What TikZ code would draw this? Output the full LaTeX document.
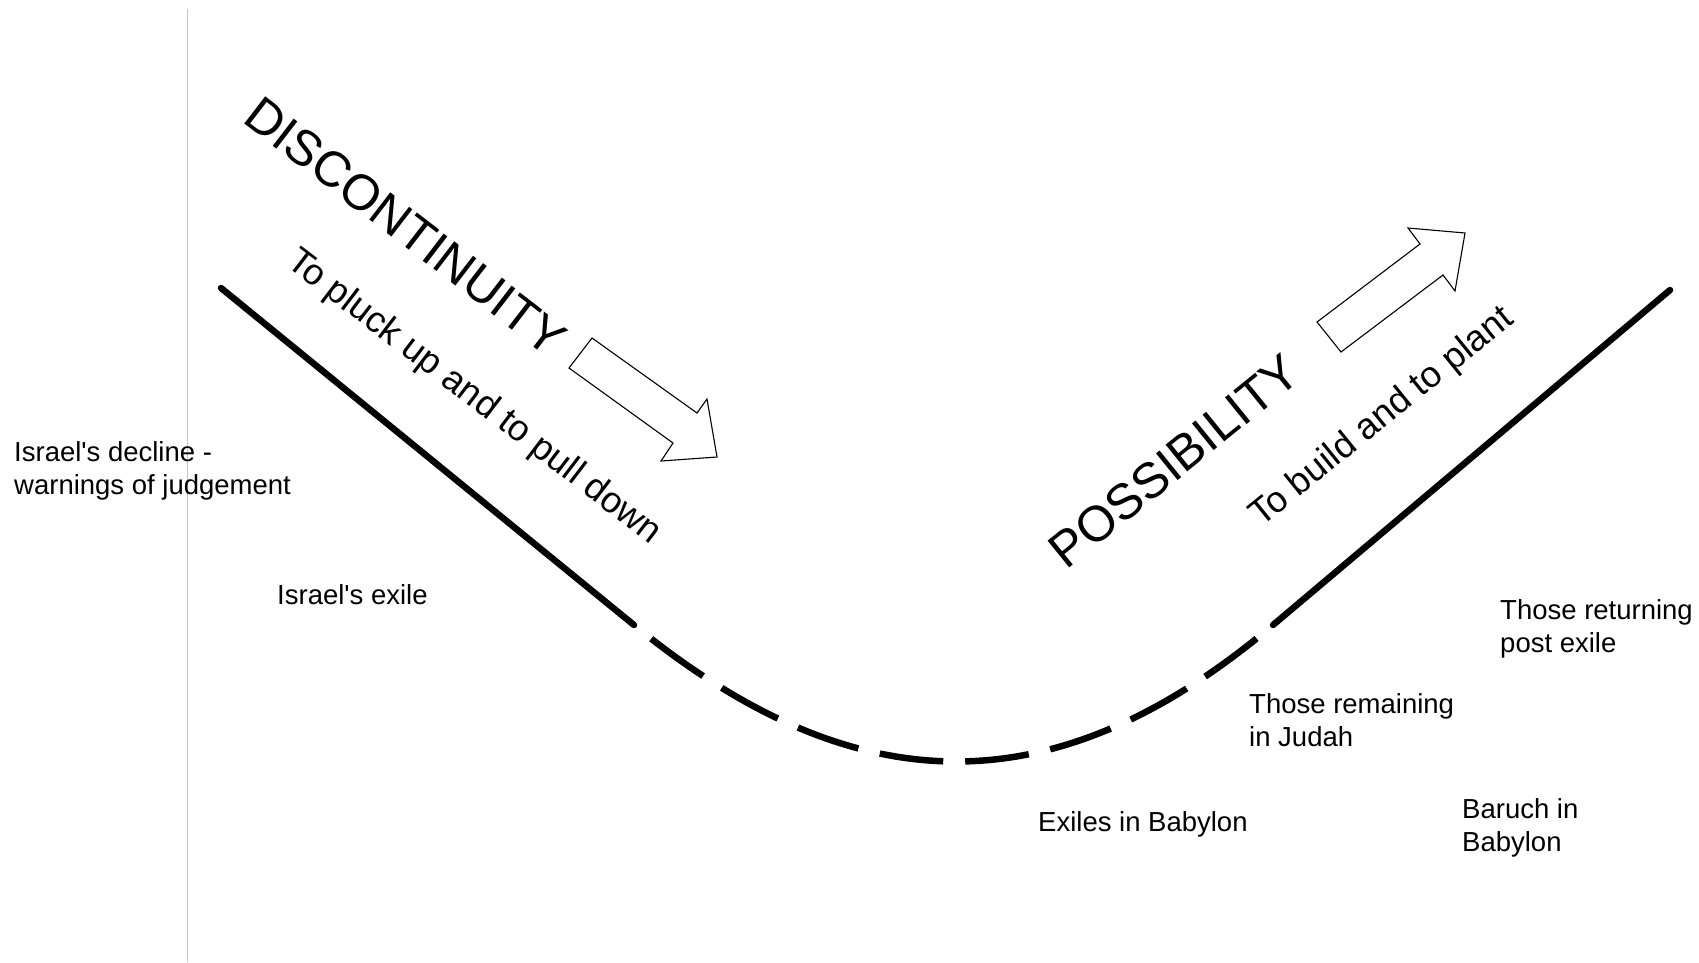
\documentclass[tikz,border=0pt]{standalone}
\usepackage{fontspec}
\setmainfont{Liberation Sans}[Ligatures=TeXOff]
\begin{document}
\begin{tikzpicture}[x=1pt,y=-1pt,
  lbl/.style={inner sep=0pt,anchor=base west,align=left,font=\fontsize{27.5}{33}\selectfont},
  big/.style={inner sep=0pt,anchor=base west,font=\fontsize{50}{58}\selectfont},
  sub/.style={inner sep=0pt,anchor=base west,font=\fontsize{36.5}{42}\selectfont},
  road/.style={line width=6.5pt,black},
  hollow/.style={draw=black,line width=1.1pt,fill=white,line join=miter}]
\useasboundingbox (0,0) rectangle (1699,962);
% grey vertical line
\coordinate (gtop) at (187,9);
\coordinate (gbot) at (187,962);
\draw[gray!45,line width=1pt] (gtop) -- (gbot);
% curve
\coordinate (A) at (221,288);
\coordinate (B) at (634,625);
\coordinate (C) at (1273,625);
\coordinate (D) at (1670,290);
\draw[road,line cap=round] (A) -- (B);
\draw[road,line cap=butt,dash pattern=on 64pt off 22pt,dash phase=64pt]
  (B) .. controls (857,807) and (1057,807) .. (C);
\draw[road,line cap=round] (C) -- (D);
% hollow arrows
\draw[hollow] (592,338) -- (697,413) -- (707,399) -- (717,457) -- (661,461) -- (673,443) -- (569,368) -- cycle;
\draw[hollow] (1317,322) -- (1420,244) -- (1408,228) -- (1465,233) -- (1455,291) -- (1443,275) -- (1341,352) -- cycle;
% titles
\node[big,rotate=-37.6] (disc) at (241,121) {DISCONTINUITY};
\node[sub,rotate=-37.4] (pluck) at (285,265) {To pluck up and to pull down};
\node[big,rotate=39] (poss) at (1066,571) {POSSIBILITY};
\node[sub,rotate=39] (build) at (1261,528) {To build and to plant};
% labels (base = last line)
\node[lbl] (decline) at (14,494) {Israel's decline -\\warnings of judgement};
\node[lbl] (exile) at (277,604) {Israel's exile};
\node[lbl] (return) at (1500,652) {Those returning\\post exile};
\node[lbl] (remain) at (1249,746) {Those remaining\\in Judah};
\node[lbl] (babylon) at (1038,831) {Exiles in Babylon};
\node[lbl] (baruch) at (1462,851) {Baruch in\\Babylon};
\end{tikzpicture}
\end{document}
